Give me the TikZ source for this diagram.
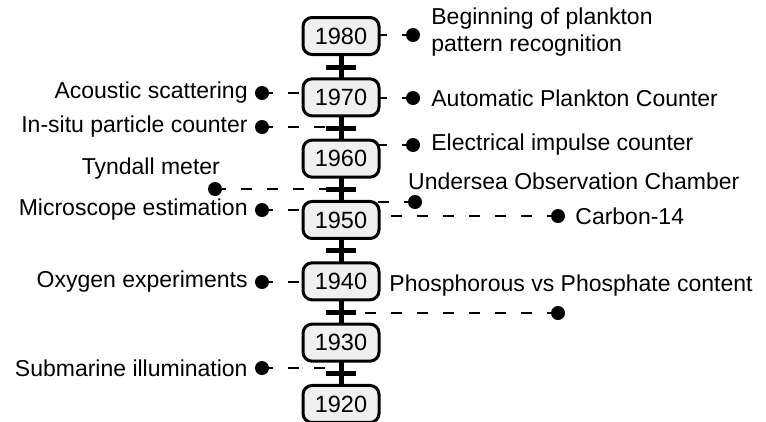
\documentclass[tikz,border=0pt]{standalone}
\usepackage{fontspec}
\setmainfont{Liberation Sans}
\usetikzlibrary{positioning}

\begin{document}
\begin{tikzpicture}[x=1pt, y=-1pt,
year/.style={draw, line width=3pt, rounded corners=9pt, fill=gray!12,
minimum width=76pt, minimum height=37pt, inner sep=0pt,
font=\fontsize{23.5}{27}\selectfont},
event/.style={circle, fill=black, inner sep=0pt, minimum size=14pt},
link/.style={dash pattern=on 11pt off 15pt, line width=2pt},
lbl/.style={inner sep=0pt, font=\fontsize{23}{27}\selectfont}]
\useasboundingbox (0,0) rectangle (766,421);

% time axis with a bar halfway between decades
\draw[line width=5pt] (341,36) -- (341,404);
\foreach \i in {0,...,5}{
\draw[line width=5pt] (326,{67+61.33*\i}) -- (356,{67+61.33*\i});}

% events: dot, and its point on the axis
\foreach \n/\y/\x in {pattern/35/413, acoustic/93/262, counter/98/413,
insitu/127/262, impulse/145/413, tyndall/189/215, undersea/202/415,
microscope/210/262, carbon/216/558, oxygen/282/262, phosphate/313/558,
submarine/368/262}{
\coordinate (\n-t) at (341,\y);
\node[event] (\n) at (\x,\y) {};
\draw[link] (\n.center) -- (\n-t);}

% decades
\foreach \i in {0,...,6}{
\pgfmathtruncatemacro{\yr}{1980-10*\i}
\node[year] (d\yr) at (341,{36+61.33*\i}) {\yr};}

% labels
\node[lbl, right=11pt of pattern, align=left, yshift=3pt] {Beginning of plankton\\pattern recognition};
\node[lbl, left=7pt of acoustic] {Acoustic scattering};
\node[lbl, right=11pt of counter] {Automatic Plankton Counter};
\node[lbl, left=7pt of insitu] {In-situ particle counter};
\node[lbl, right=11pt of impulse] {Electrical impulse counter};
\node[lbl, anchor=south east] at ([yshift=4pt]tyndall.north east) {Tyndall meter};
\node[lbl, anchor=south west] at ([xshift=-7pt, yshift=5pt]undersea.north) {Undersea Observation Chamber};
\node[lbl, left=7pt of microscope] {Microscope estimation};
\node[lbl, right=10pt of carbon] {Carbon-14};
\node[lbl, left=7pt of oxygen] {Oxygen experiments};
\node[lbl, anchor=south] at ([xshift=13pt, yshift=9pt]phosphate.north) {Phosphorous vs Phosphate content};
\node[lbl, left=7pt of submarine] {Submarine illumination};
\end{tikzpicture}
\end{document}
